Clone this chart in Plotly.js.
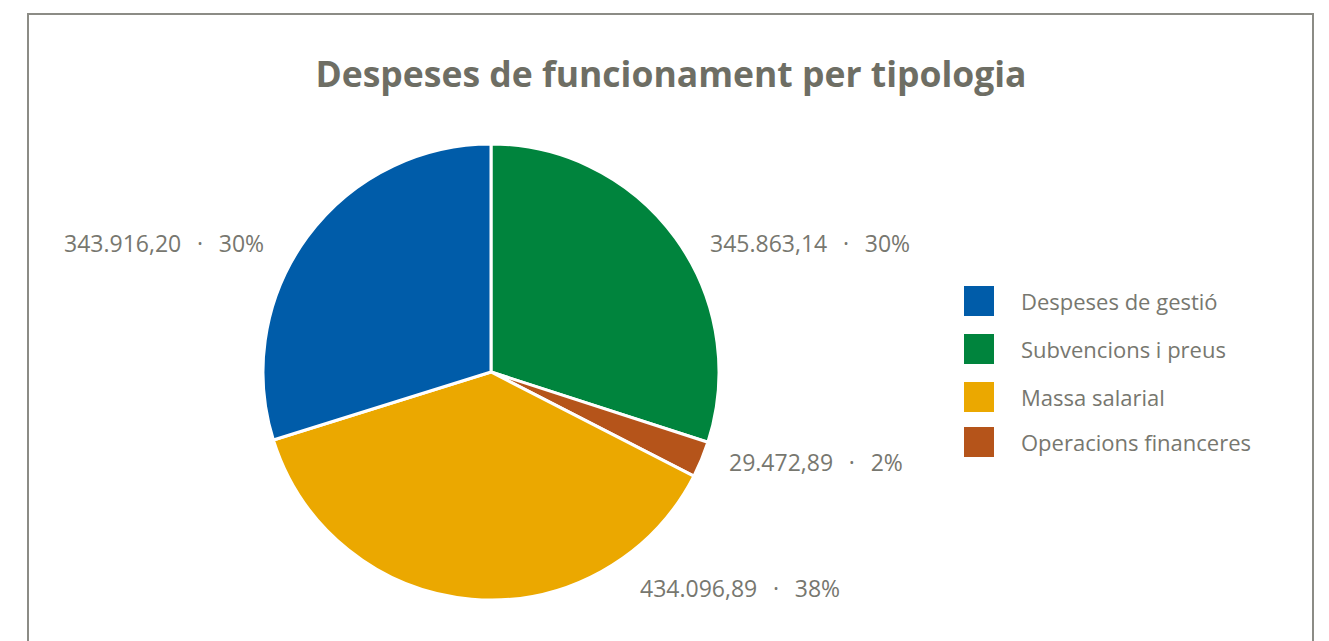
<!DOCTYPE html>
<html><head><meta charset="utf-8">
<script src="https://cdn.plot.ly/plotly-3.0.1.min.js"></script>
<style>html,body{margin:0;padding:0;background:#fff;}#chart{width:1329px;height:641px;}</style>
</head><body><div id="chart"></div>
<script>
// Data (legend order)
const labels = ["Despeses de gestió", "Subvencions i preus", "Massa salarial", "Operacions financeres"];
const values = [343916.20, 345863.14, 434096.89, 29472.89];
const percentLabels = ["30%", "30%", "38%", "2%"];
const colors = ["#005ca9", "#00843d", "#eba800", "#b5541a"];
// Clockwise slice order starting at 12 o'clock
const sliceOrder = [1, 3, 2, 0];

const W = 1329, H = 641;
const px = x => x / W, py = y => 1 - y / H;

const fontFam = "'Open Sans', 'Noto Sans', sans-serif";
const textColor = "#77776f";

const pie = {
  type: "pie",
  labels: sliceOrder.map(i => labels[i]),
  values: sliceOrder.map(i => values[i]),
  marker: { colors: sliceOrder.map(i => colors[i]), line: { color: "#ffffff", width: 3 } },
  sort: false,
  direction: "clockwise",
  rotation: 0,
  textinfo: "none",
  hoverinfo: "label+value+percent",
  showlegend: false,
  domain: { x: [px(263), px(719)], y: [py(600), py(144)] }
};

function fmt(v) {
  const s = v.toFixed(2).split(".");
  return s[0].replace(/\B(?=(\d{3})+(?!\d))/g, ".") + "," + s[1];
}

// label anchor positions (pixels): [x, y, xanchor]
const labelPos = [[266, 243, "right"], [708, 243, "left"], [638, 588, "left"], [727, 462, "left"]];
const sep = "\u00a0\u00a0\u2009·\u2009\u00a0\u00a0";
const annotations = [];
labels.forEach((l, i) => {
  annotations.push({
    xref: "paper", yref: "paper", x: px(labelPos[i][0]), y: py(labelPos[i][1]),
    xanchor: labelPos[i][2], yanchor: "middle", showarrow: false,
    text: fmt(values[i]) + sep + percentLabels[i],
    font: { family: fontFam, size: 23, color: textColor }
  });
});

// custom legend
const legX = 964, legY = [301, 349, 397, 442], sq = 30;
const shapes = [{
  type: "rect", xref: "paper", yref: "paper",
  x0: px(28), x1: px(1313), y0: py(660), y1: py(14),
  line: { color: "#8c8c86", width: 2 }, fillcolor: "rgba(0,0,0,0)"
}];
labels.forEach((l, i) => {
  shapes.push({
    type: "rect", xref: "paper", yref: "paper",
    x0: px(legX), x1: px(legX + sq), y0: py(legY[i] + sq / 2), y1: py(legY[i] - sq / 2),
    fillcolor: colors[i], line: { width: 0 }
  });
  annotations.push({
    xref: "paper", yref: "paper", x: px(1019), y: py(legY[i]),
    xanchor: "left", yanchor: "middle", showarrow: false, text: l,
    font: { family: fontFam, size: 22, color: textColor }
  });
});

const layout = {
  width: W, height: H,
  margin: { l: 0, r: 0, t: 0, b: 0 },
  paper_bgcolor: "#ffffff",
  title: {
    text: "<b>Despeses de funcionament per tipologia</b>",
    x: px(671), xanchor: "center", y: py(75), yanchor: "middle",
    font: { family: fontFam, size: 35.5, color: "#6e6e64" }
  },
  shapes: shapes,
  annotations: annotations,
  showlegend: false
};

Plotly.newPlot("chart", [pie], layout, { displayModeBar: false });
</script></body></html>
